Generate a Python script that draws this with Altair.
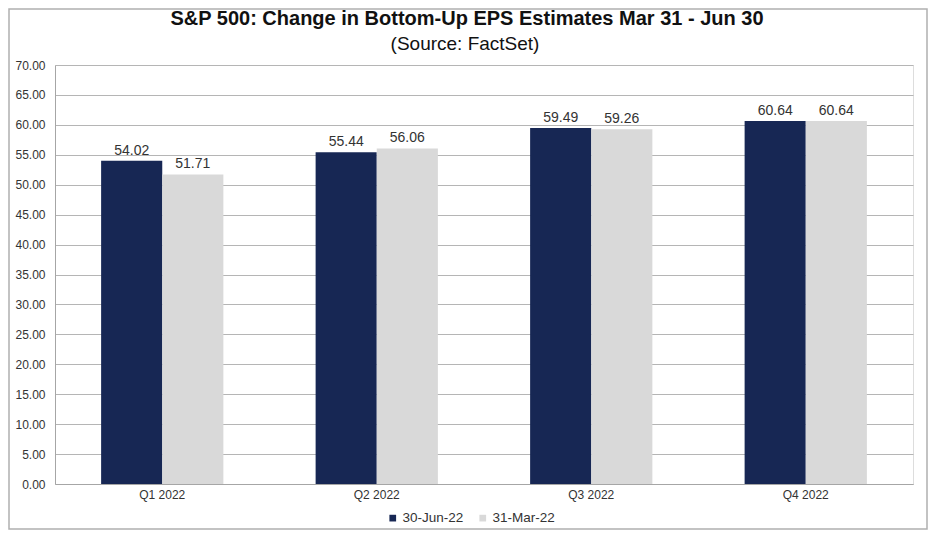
import altair as alt
import pandas as pd

quarters = ["Q1 2022", "Q2 2022", "Q3 2022", "Q4 2022"]
series_names = ["30-Jun-22", "31-Mar-22"]
jun_values = [54.02, 55.44, 59.49, 60.64]
mar_values = [51.71, 56.06, 59.26, 60.64]
y_ticks = [0, 5, 10, 15, 20, 25, 30, 35, 40, 45, 50, 55, 60, 65, 70]
colors = ["#172754", "#d9d9d9"]
title_text = "S&P 500: Change in Bottom-Up EPS Estimates Mar 31 - Jun 30"
subtitle_text = "(Source: FactSet)"

rows = []
for q, j, m in zip(quarters, jun_values, mar_values):
    rows.append({"quarter": q, "series": series_names[0], "value": j})
    rows.append({"quarter": q, "series": series_names[1], "value": m})
df = pd.DataFrame(rows)

FONT = "Liberation Sans"

base = alt.Chart(df).encode(
    x=alt.X("quarter:N", sort=quarters, title=None,
            scale=alt.Scale(paddingInner=0.43, paddingOuter=0.215),
            axis=alt.Axis(labelAngle=0, ticks=False, grid=False, domainColor="#a6a6a6",
                          labelFontSize=12, labelColor="#333333", labelPadding=5,
                          labelFont=FONT)),
    xOffset=alt.XOffset("series:N", sort=series_names),
    y=alt.Y("value:Q", title=None,
            scale=alt.Scale(domain=[0, 70], nice=False),
            axis=alt.Axis(values=y_ticks, format=".2f", ticks=False, grid=True,
                          labelOverlap=False,
                          gridColor="#b5b5b5", domainColor="#a6a6a6",
                          labelFontSize=12, labelColor="#333333", labelPadding=10,
                          labelFont=FONT)),
)

bars = base.mark_bar().encode(
    color=alt.Color("series:N", sort=series_names,
                    scale=alt.Scale(domain=series_names, range=colors),
                    legend=alt.Legend(title=None, orient="none", direction="horizontal",
                                      legendX=331, legendY=446, symbolType="square",
                                      symbolSize=45, symbolStrokeWidth=0,
                                      labelFontSize=13.5, labelColor="#333333",
                                      labelFont=FONT, columnPadding=12,
                                      labelOffset=3)),
)

labels = base.mark_text(baseline="bottom", dy=-3, fontSize=14, color="#333333",
                        font=FONT).encode(
    text=alt.Text("value:Q", format=".2f"),
)

deco = alt.Chart(pd.DataFrame({"t": [title_text], "s": [subtitle_text]}))

frame = deco.mark_rect(
    fill="transparent", stroke="#b0b0b0", strokeWidth=1.5
).encode(
    x=alt.value(-46), x2=alt.value(872),
    y=alt.value(-56), y2=alt.value(464),
)

title_mark = deco.mark_text(
    font=FONT, fontSize=20, fontWeight="bold", color="#111111",
    align="center", baseline="middle"
).encode(x=alt.value(412), y=alt.value(-46), text="t:N")

subtitle_mark = deco.mark_text(
    font=FONT, fontSize=19, color="#111111",
    align="center", baseline="middle"
).encode(x=alt.value(410), y=alt.value(-21), text="s:N")

chart = alt.layer(frame, bars, labels, title_mark, subtitle_mark).properties(
    width=858,
    height=419,
    padding={"left": 47, "top": 57, "right": 15, "bottom": 46},
    autosize=alt.AutoSizeParams(type="none"),
).configure_view(strokeWidth=0).configure(background="white")

chart.save("out.html", embed_options={"renderer": "svg", "actions": False})
